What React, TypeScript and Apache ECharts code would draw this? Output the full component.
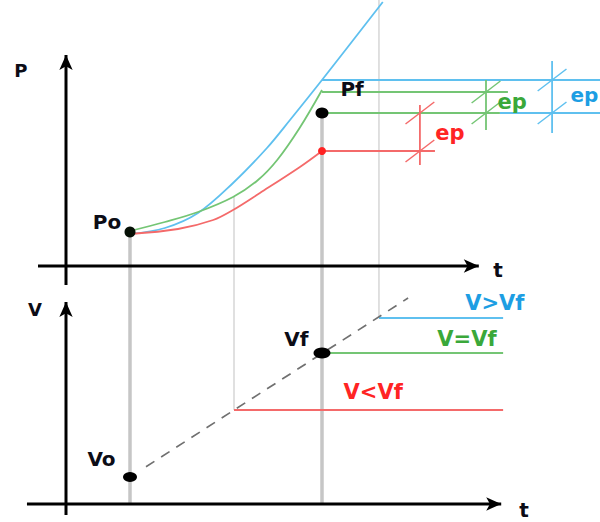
import React, { useEffect, useRef } from "react";
import * as echarts from "echarts";

// Key instants on the time axis
const tStart = 2; // Po / Vo
const tFinal = 8; // Pf / Vf
const tRedReach = 5.25; // ramp reaches the V<Vf level
const tBlueReach = 9.78; // ramp reaches the V>Vf level

// Pressure P(t) for the three cases (blue: V>Vf, green: V=Vf, red: V<Vf)
const pressureBlue: [number, number][] = [
  [2, 1.6], [3.09, 1.9], [4.125, 2.65], [5.22, 4.15], [6.28, 5.9], [7.0, 7.3], [8, 9.3], [9.9, 13.2],
];
const pressureGreen: [number, number][] = [
  [2, 1.75], [3.09, 2.2], [4.125, 2.7], [5.22, 3.45], [6.0, 4.3], [6.6, 5.3], [7.3, 6.9], [8, 8.8],
];
const pressureRed: [number, number][] = [
  [2, 1.6], [3.5, 1.85], [4.6, 2.3], [5.22, 2.8], [6.06, 3.65], [7.31, 4.95], [8, 5.75],
];

// Pressure landmarks
const pStart = 1.7;
const pFinal = 7.65;
const plateauBlue = 9.3;
const plateauGreen = 8.7;
const plateauRed = 5.75;

// Speed landmarks
const vStart = 1.35;
const vFinal = 7.55;
const levelBlue = 9.3;
const levelRed = 4.7;
const speedRamp: [number, number][] = [[2.5, 1.86], [10.69, 10.3]];

// "ep" dimension marks: time, lower and upper pressure of the span
const epTimes = [11.06, 13.125, 15.19];
const epLows = [plateauRed, pFinal, pFinal];
const epHighs = [pFinal, plateauGreen, plateauBlue];

const C = {
  blue: "#5fc0ef",
  green: "#74c574",
  red: "#f46a6a",
  blueText: "#1d9ee3",
  greenText: "#3aa83a",
  redText: "#ff2424",
  ink: "#0c0c16",
  grayThick: "#c6c6c6",
  grayThin: "#d6d6d6",
  dash: "#707070",
};

const FONT = "'DejaVu Sans', Verdana, sans-serif";

type Pt = [number, number];

function seg(g: number, data: Pt[], color: string, width: number, z = 2, extra: any = {}) {
  return {
    type: "line",
    xAxisIndex: g,
    yAxisIndex: g,
    data,
    symbol: "none",
    showSymbol: false,
    silent: true,
    clip: false,
    z,
    lineStyle: { color, width, cap: "butt", ...(extra.lineStyle || {}) },
    ...(extra.smooth !== undefined ? { smooth: extra.smooth } : {}),
  };
}

// Axis with an arrowhead at its far end
function arrowAxis(g: number, from: Pt, to: Pt, rotate: number) {
  return {
    type: "line",
    xAxisIndex: g,
    yAxisIndex: g,
    symbol: "none",
    showSymbol: true,
    silent: true,
    clip: false,
    z: 6,
    lineStyle: { color: "#000", width: 3 },
    itemStyle: { color: "#000", opacity: 1 },
    data: [
      { value: from, symbol: "none" },
      { value: to, symbol: "arrow", symbolSize: [10, 15], symbolRotate: rotate },
    ],
  };
}

function dots(g: number, items: { value: Pt; size: number | number[]; color: string }[]) {
  return {
    type: "scatter",
    xAxisIndex: g,
    yAxisIndex: g,
    silent: true,
    z: 8,
    itemStyle: { opacity: 1 },
    data: items.map((d) => ({
      value: d.value,
      symbolSize: d.size,
      itemStyle: { color: d.color, opacity: 1 },
    })),
  };
}

function labels(g: number, items: { text: string; at: Pt; color: string; size: number }[]) {
  return {
    type: "scatter",
    xAxisIndex: g,
    yAxisIndex: g,
    silent: true,
    symbolSize: 1,
    itemStyle: { color: "rgba(0,0,0,0)", opacity: 1 },
    z: 9,
    data: items.map((d) => ({
      value: d.at,
      label: {
        show: true,
        position: "inside",
        align: "center",
        verticalAlign: "middle",
        formatter: d.text,
        color: d.color,
        opacity: 1,
        fontSize: d.size,
        fontWeight: "bold",
        fontFamily: FONT,
      },
    })),
  };
}

export default function App() {
  const ref = useRef<HTMLDivElement>(null);

  useEffect(() => {
    if (!ref.current) return;
    const chart = echarts.init(ref.current, undefined, { renderer: "svg" });

    const T = 0; // pressure panel
    const B = 1; // speed panel
    const pBottom = -1.2;
    const vTop = 10.7;

    const series: any[] = [];

    // projection lines between the two panels
    series.push(seg(T, [[tStart, pStart], [tStart, pBottom]], C.grayThick, 3.5, 1));
    series.push(seg(T, [[tFinal, pFinal], [tFinal, pBottom]], C.grayThick, 3.5, 1));
    series.push(seg(T, [[tRedReach, 3.45], [tRedReach, pBottom]], C.grayThin, 1.5, 1));
    series.push(seg(T, [[tBlueReach, 13.3], [tBlueReach, pBottom]], C.grayThin, 1.5, 1));
    series.push(seg(B, [[tStart, vTop], [tStart, 0]], C.grayThick, 3.5, 1));
    series.push(seg(B, [[tFinal, vTop], [tFinal, 0]], C.grayThick, 3.5, 1));
    series.push(seg(B, [[tRedReach, vTop], [tRedReach, levelRed]], C.grayThin, 1.5, 1));
    series.push(seg(B, [[tBlueReach, vTop], [tBlueReach, levelBlue]], C.grayThin, 1.5, 1));

    // pressure curves
    series.push(seg(T, pressureBlue, C.blue, 1.8, 3, { smooth: 0.35 }));
    series.push(seg(T, pressureGreen, C.green, 1.8, 3, { smooth: 0.35 }));
    series.push(seg(T, pressureRed, C.red, 1.8, 3, { smooth: 0.35 }));

    // plateaus
    series.push(seg(T, [[tFinal, plateauBlue], [16.7, plateauBlue]], C.blue, 1.8));
    series.push(seg(T, [[tFinal, plateauGreen], [13.81, plateauGreen]], C.green, 1.8));
    series.push(seg(T, [[tFinal, pFinal], [13.56, pFinal]], C.green, 1.8));
    series.push(seg(T, [[13.56, pFinal], [16.7, pFinal]], C.blue, 1.8));
    series.push(seg(T, [[tFinal, plateauRed], [11.53, plateauRed]], C.red, 1.8));

    // ep dimension marks
    const epColors = [C.red, C.green, C.blue];
    const epOver = [[0.7, 0.4], [0.85, 0.6], [1.0, 0.95]];
    epTimes.forEach((t, i) => {
      const col = epColors[i];
      series.push(seg(T, [[t, epLows[i] - epOver[i][0]], [t, epHighs[i] + epOver[i][1]]], col, 1.8, 4));
      [epLows[i], epHighs[i]].forEach((p) => {
        series.push(seg(T, [[t - 0.45, p - 0.55], [t + 0.45, p + 0.55]], col, 1.5, 4));
      });
    });

    // speed ramp and levels
    series.push(seg(B, speedRamp, C.dash, 1.7, 3, { lineStyle: { type: [10, 8] } }));
    series.push(seg(B, [[tBlueReach, levelBlue], [13.66, levelBlue]], C.blue, 1.8));
    series.push(seg(B, [[tFinal, vFinal], [13.66, vFinal]], C.green, 1.8));
    series.push(seg(B, [[tRedReach, levelRed], [13.66, levelRed]], C.red, 1.8));

    // axes
    series.push(arrowAxis(T, [0, -0.95], [0, 10.55], 0));
    series.push(arrowAxis(T, [-0.875, 0], [12.9, 0], -90));
    series.push(arrowAxis(B, [0, -0.55], [0, 10.1], 0));
    series.push(arrowAxis(B, [-1.22, 0], [13.6, 0], -90));

    // points
    series.push(
      dots(T, [
        { value: [tStart, pStart], size: 11, color: "#061006" },
        { value: [tFinal, pFinal], size: [13, 11], color: "#000" },
        { value: [tFinal, plateauRed], size: 8, color: "#f22" },
      ])
    );
    series.push(
      dots(B, [
        { value: [tStart, vStart], size: [14, 10], color: "#000" },
        { value: [tFinal, vFinal], size: [17, 11], color: "#000" },
      ])
    );

    // texts
    series.push(
      labels(T, [
        { text: "P", at: [-1.41, 9.8], color: C.ink, size: 18 },
        { text: "Po", at: [1.28, 2.2], color: C.ink, size: 20 },
        { text: "Pf", at: [8.94, 8.85], color: C.ink, size: 20 },
        { text: "t", at: [13.5, -0.2], color: C.ink, size: 20 },
        { text: "ep", at: [12.0, 6.65], color: C.redText, size: 21 },
        { text: "ep", at: [13.94, 8.2], color: C.greenText, size: 21 },
        { text: "ep", at: [16.2, 8.55], color: C.blueText, size: 20 },
      ])
    );
    series.push(
      labels(B, [
        { text: "V", at: [-0.97, 9.75], color: C.ink, size: 18 },
        { text: "Vo", at: [1.11, 2.27], color: C.ink, size: 20 },
        { text: "Vf", at: [7.2, 8.27], color: C.ink, size: 20 },
        { text: "t", at: [14.31, -0.3], color: C.ink, size: 20 },
        { text: "V>Vf", at: [13.4, 10.05], color: C.blueText, size: 21 },
        { text: "V=Vf", at: [12.53, 8.27], color: C.greenText, size: 21 },
        { text: "V<Vf", at: [9.6, 5.6], color: C.redText, size: 21 },
      ])
    );

    const hiddenX = (g: number) => ({
      type: "value",
      gridIndex: g,
      min: -1.5,
      max: 17,
      show: false,
    });

    chart.setOption({
      animation: false,
      backgroundColor: "#ffffff",
      grid: [
        { left: 18, top: 0, width: 592, height: 290, outerBoundsMode: "none" },
        { left: 18, top: 290, width: 592, height: 234, outerBoundsMode: "none" },
      ],
      xAxis: [hiddenX(0), hiddenX(1)],
      yAxis: [
        { type: "value", gridIndex: 0, min: pBottom, max: 13.3, show: false },
        { type: "value", gridIndex: 1, min: -1, max: vTop, show: false },
      ],
      series,
    });

    return () => chart.dispose();
  }, []);

  return (
    <div
      ref={ref}
      style={{ position: "fixed", left: 0, top: 0, width: 600, height: 522 }}
    />
  );
}
